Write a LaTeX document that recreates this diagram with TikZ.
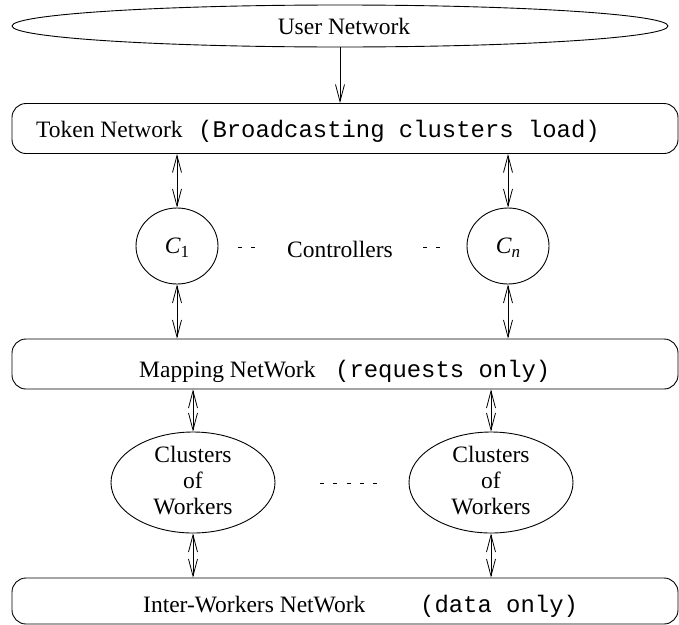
\documentclass[tikz,border=0pt]{standalone}
\usepackage{fontspec}
\setmainfont{Liberation Serif}
\setmonofont{Liberation Mono}
\usetikzlibrary{arrows.meta,shapes.geometric}

\tikzset{
  net/.style={draw, rounded corners=14pt, minimum width=666pt, line width=0.9pt, inner sep=0pt},
  blob/.style={draw, ellipse, line width=0.9pt, inner sep=0pt},
  link/.style={line width=0.8pt, {Straight Barb[length=17pt,width=9pt]}-{Straight Barb[length=17pt,width=9pt]}},
  feed/.style={line width=0.8pt, -{Straight Barb[length=17pt,width=9pt]}},
  lbl/.style={inner sep=0pt, font=\fontsize{23.5}{26}\selectfont},
  mono/.style={inner sep=0pt, font=\fontsize{23.9}{26}\ttfamily},
  gap/.style={line width=0.9pt, dash pattern=on 4pt off 9.25pt},
}

\begin{document}
\begin{tikzpicture}[x=1pt, y=-1pt]
\useasboundingbox (0,0) rectangle (679,624);

% user level
\node[blob, minimum width=656pt, minimum height=42pt] (user) at (340,26) {};
\node[lbl, anchor=base] (usert) at (344,34) {User Network};

% token network
\node[net, minimum height=50pt] (tok) at (345,128.5) {};
\node[lbl, anchor=base west] (tokt) at (36,137) {Token Network};
\node[mono, anchor=base west] (tokm) at (198,137) {(Broadcasting clusters load)};

% controllers
\node[blob, minimum width=82pt, minimum height=76pt] (c1) at (177,246) {};
\node[blob, minimum width=82pt, minimum height=76pt] (cn) at (508,246) {};
\node[lbl] (c1t) at (177,248) {\textit{C}\raisebox{-0.35ex}{\fontsize{17}{17}\selectfont 1}};
\node[lbl] (cnt) at (508,248) {\textit{C}\raisebox{-0.35ex}{\fontsize{17}{17}\selectfont\textit{n}}};
\node[lbl, anchor=base] (ctl) at (340,257) {Controllers};
\coordinate (d1a) at (238,247); \coordinate (d1b) at (258,247);
\coordinate (d2a) at (423,247); \coordinate (d2b) at (443,247);
\draw[gap] (d1a) -- (d1b);
\draw[gap] (d2a) -- (d2b);

% mapping network
\node[net, minimum height=50pt] (map) at (345,364) {};
\node[lbl, anchor=base west] (mapt) at (139,377) {Mapping NetWork};
\node[mono, anchor=base west] (mapm) at (335,377) {(requests only)};

% worker clusters
\node[blob, minimum width=164pt, minimum height=101pt] (w1) at (193,482.5) {};
\node[blob, minimum width=164pt, minimum height=101pt] (w2) at (491,482.5) {};
\node[lbl, align=center] (w1t) at (193,481) {Clusters\\of\\Workers};
\node[lbl, align=center] (w2t) at (491,481) {Clusters\\of\\Workers};
\coordinate (d3a) at (320,483); \coordinate (d3b) at (377,483);
\draw[gap] (d3a) -- (d3b);

% inter-workers network
\node[net, minimum height=46pt] (iw) at (345,601) {};
\node[lbl, anchor=base west] (iwt) at (143,612) {Inter-Workers NetWork};
\node[mono, anchor=base west] (iwd) at (420,612) {(data only)};

% connectors
\draw[feed] (user.south) -- (user.south |- tok.north);
\draw[link] (c1 |- tok.south) -- (c1.north);
\draw[link] (cn |- tok.south) -- (cn.north);
\draw[link] (c1.south) -- (c1 |- map.north);
\draw[link] (cn.south) -- (cn |- map.north);
\draw[link] (w1 |- map.south) -- (w1.north);
\draw[link] (w2 |- map.south) -- (w2.north);
\draw[link] (w1.south) -- (w1 |- iw.north);
\draw[link] (w2.south) -- (w2 |- iw.north);
\end{tikzpicture}
\end{document}
